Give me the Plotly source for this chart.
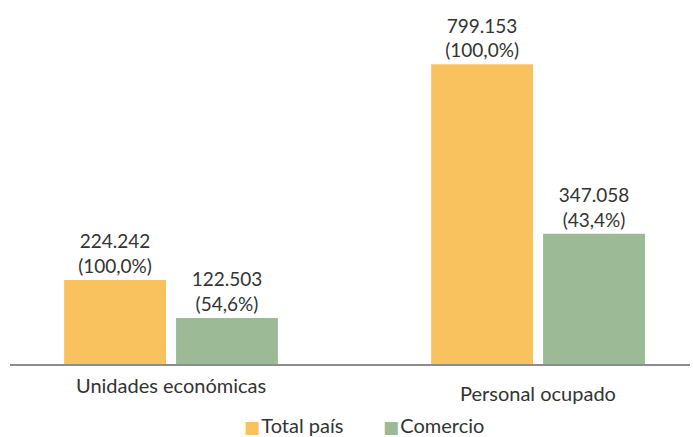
import plotly.graph_objects as go

categories = ["Unidades económicas", "Personal ocupado"]
total_pais = [224242, 799153]
comercio = [122503, 347058]
pct_total = ["100,0%", "100,0%"]
pct_comercio = ["54,6%", "43,4%"]
series_names = ["Total país", "Comercio"]
colors = ["#FAC25F", "#9DBA97"]

def fmt(v):
    return f"{v:,}".replace(",", ".")

FONT = "Lato"
TXT = "#333333"

fig = go.Figure()
fig.add_trace(go.Bar(
    x=[0, 1], y=total_pais, name=series_names[0],
    marker=dict(color=colors[0], line=dict(width=0)),
    text=[f"{fmt(v)}<br>({p})" for v, p in zip(total_pais, pct_total)],
    textposition="outside", cliponaxis=False,
    textfont=dict(family=FONT, size=19, color=TXT),
))
fig.add_trace(go.Bar(
    x=[0, 1], y=comercio, name=series_names[1],
    marker=dict(color=colors[1], line=dict(width=0)),
    text=[f"{fmt(v)}<br>({p})" for v, p in zip(comercio, pct_comercio)],
    textposition="outside", cliponaxis=False,
    textfont=dict(family=FONT, size=19, color=TXT),
))

label_y = [-0.062, -0.083]
for i, (c, yy) in enumerate(zip(categories, label_y)):
    fig.add_annotation(x=i, y=yy, xref="x", yref="paper", text=c, showarrow=False,
                       font=dict(family=FONT, size=20, color=TXT), yanchor="middle")

# legend entries
legend_x = [0.341, 0.545]
for name, col, lx in zip(series_names, colors, legend_x):
    fig.add_annotation(x=lx, y=-0.177, xref="paper", yref="paper", xanchor="left",
                       yanchor="middle", showarrow=False,
                       text=f"<span style='color:{col}; font-family:DejaVu Sans; font-size:17px'>■</span>&#8202;{name}",
                       font=dict(family=FONT, size=20, color=TXT))

fig.update_layout(
    width=693, height=437,
    margin=dict(l=10, r=3, t=20, b=73, autoexpand=False),
    paper_bgcolor="white", plot_bgcolor="white",
    barmode="group", bargap=0.39, bargroupgap=0.09,
    showlegend=False,
)
fig.update_xaxes(range=[-0.4387, 1.414], showticklabels=False, showgrid=False,
                 zeroline=False, showline=True, linecolor="#8C8C8C", linewidth=2, ticks="")
fig.update_yaxes(range=[0, 917000], visible=False, showgrid=False, zeroline=False)

fig.write_html("out.html", config={"displayModeBar": False})

with open("out.html", "r", encoding="utf-8") as f:
    html = f.read()
html = html.replace("<body>", "<body style=\"margin:0;padding:0;overflow:hidden\">", 1)
with open("out.html", "w", encoding="utf-8") as f:
    f.write(html)
